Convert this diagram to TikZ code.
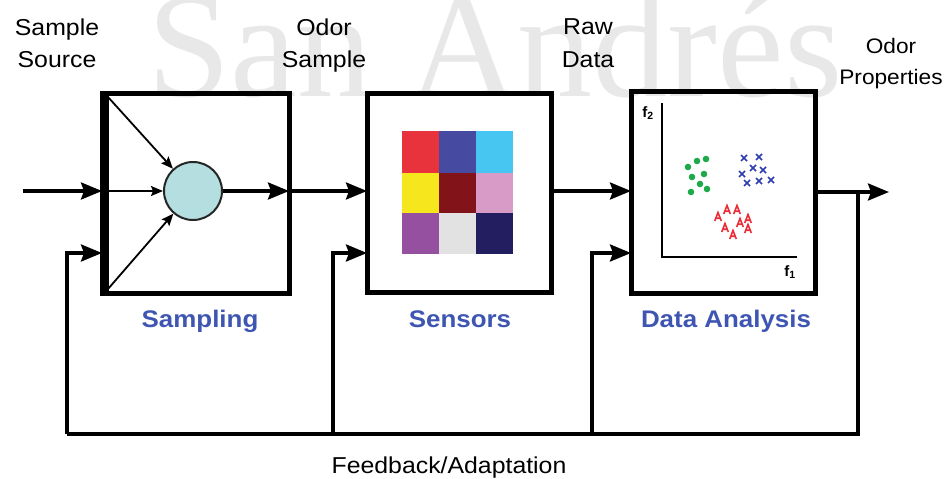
\documentclass[tikz,border=0pt]{standalone}
\usepackage{fontspec}
\setmainfont{Liberation Sans}
\newfontfamily\wmfont{Liberation Serif}
\usetikzlibrary{arrows.meta}
\definecolor{wm}{RGB}{232,232,232}
\definecolor{lblue}{RGB}{62,86,178}
\definecolor{cyanfill}{RGB}{180,222,224}
\definecolor{gA}{RGB}{232,50,60}
\definecolor{gB}{RGB}{70,74,160}
\definecolor{gC}{RGB}{70,198,240}
\definecolor{gD}{RGB}{246,230,30}
\definecolor{gE}{RGB}{130,20,25}
\definecolor{gF}{RGB}{216,155,200}
\definecolor{gG}{RGB}{150,80,160}
\definecolor{gH}{RGB}{226,226,226}
\definecolor{gI}{RGB}{35,30,95}
\definecolor{mgreen}{RGB}{30,170,75}
\definecolor{mblue}{RGB}{45,60,175}
\definecolor{mred}{RGB}{235,45,55}
\newcommand{\lbl}[3]{\scalebox{1.08}[1]{\fontsize{#1}{#2}\selectfont\begin{tabular}[t]{@{}c@{}}#3\end{tabular}}}
\begin{document}
\begin{tikzpicture}[x=1pt,y=-1pt,line join=miter,
  box/.style={draw,line width=5pt,inner sep=0pt,outer sep=0pt},
  ln/.style={line width=3.3pt},
  arr/.style={line width=3.3pt,-{Stealth[length=21pt,width=17pt,inset=3pt]}},
  tarr/.style={line width=1.8pt,-{Stealth[length=12pt,width=10pt,inset=2pt]}},
  toplbl/.style={anchor=base,inner sep=0pt},
  blbl/.style={anchor=base,inner sep=0pt,text=lblue,font=\bfseries\fontsize{24}{24}\selectfont},
  flbl/.style={inner sep=0pt,font=\bfseries\fontsize{15}{15}\selectfont},
  gdot/.style={fill=mgreen},
  bx/.style={draw=mblue,line width=1.7pt},
  ra/.style={draw=mred,line width=1.6pt}]
\useasboundingbox (0,0) rectangle (945,479);
% watermark
\node[anchor=base,inner sep=0pt,text=wm,font=\wmfont\fontsize{150}{150}\selectfont] (wmk) at (495,96) {San Andrés};

% boxes
\node[box,minimum width=187pt,minimum height=200pt] (samp) at (195.5,193) {};
\node[box,minimum width=184pt,minimum height=199pt] (sens) at (459,192.5) {};
\node[box,minimum width=184pt,minimum height=202pt] (data) at (723,192) {};
\draw[line width=8pt] ([xshift=2.5pt]samp.north west) -- ([xshift=2.5pt]samp.south west);

% sampling internals
\node[circle,draw=black!85,line width=2pt,fill=cyanfill,minimum size=58pt,inner sep=0pt] (mix) at (193,191) {};
\coordinate (c1) at (108,97);
\coordinate (c2) at (104,191);
\coordinate (c3) at (108,289);
\draw[tarr] (c1) -- (mix);
\draw[tarr] (c2) -- (mix);
\draw[tarr] (c3) -- (mix);
\draw[arr] (mix) -- (mix -| samp.east);

% main flow
\coordinate (src) at (23,191);
\draw[arr] (src) -- (src -| samp.west);
\draw[arr] (samp.east |- mix) -- (sens.west |- mix);
\draw[arr] (sens.east |- mix) -- (data.west |- mix);
\coordinate (out) at (889,192);
\coordinate (tap) at (858,192);
\draw[arr] (data.east |- out) -- (out);

% feedback
\coordinate (fb0) at (67,434);
\coordinate (fb1) at (333,434);
\coordinate (fb2) at (592,434);
\coordinate (fb3) at (858,434);
\coordinate (j0) at (67,253);
\coordinate (j1) at (333,253);
\coordinate (j2) at (592,253);
\draw[ln] (tap) -- (fb3) -- (fb0);
\draw[arr] (fb0) -- (j0) -- (j0 -| samp.west);
\draw[arr] (fb1) -- (j1) -- (j1 -| sens.west);
\draw[arr] (fb2) -- (j2) -- (j2 -| data.west);

% sensor grid
\fill[gA] (402,131) rectangle (439,173);
\fill[gB] (439,131) rectangle (476,173);
\fill[gC] (476,131) rectangle (513,173);
\fill[gD] (402,173) rectangle (439,213);
\fill[gE] (439,173) rectangle (476,213);
\fill[gF] (476,173) rectangle (513,213);
\fill[gG] (402,213) rectangle (439,254);
\fill[gH] (439,213) rectangle (476,254);
\fill[gI] (476,213) rectangle (513,254);

% data analysis plot
\coordinate (ax0) at (662,103);
\coordinate (ax1) at (662,257);
\coordinate (ax2) at (797,257);
\draw[line width=2pt] (ax0) -- (ax1) -- (ax2);
\node[flbl] (f2) at (648,113) {f\textsubscript{2}};
\node[flbl] (f1) at (790,272) {f\textsubscript{1}};
\foreach \x/\y in {688/167,697/161,706/159,692/177,704/174,700/184,707/189,691/192}
  \fill[gdot] (\x,\y) circle (3.3pt);
\foreach \x/\y in {744/158,759/157,753/168,763/170,742/174,747/183,759/181,771/180}
  \draw[bx,shift={(\x,\y)}] (-3,-3) -- (3,3) (-3,3) -- (3,-3);
\foreach \x/\y in {718/217,727/210,737/210,748/219,740/223,725/228,748/229,733/235}
  \draw[ra,shift={(\x,\y)}] (-3.3,4) -- (0,-4.5) -- (3.3,4) (-1.8,1.2) -- (1.8,1.2);

% labels
\node[toplbl] (t1) at (57,35) {\lbl{23}{32}{Sample\\Source}};
\node[toplbl] (t2) at (324,35) {\lbl{23}{32}{Odor\\Sample}};
\node[toplbl] (t3) at (588,34) {\lbl{23}{33}{Raw\\Data}};
\node[toplbl] (t4) at (891,53) {\lbl{21}{31}{Odor\\Properties}};
\node[blbl] (l1) at (200,327) {\scalebox{1.08}[1]{Sampling}};
\node[blbl] (l2) at (460,327) {\scalebox{1.08}[1]{Sensors}};
\node[blbl] (l3) at (726,327) {\scalebox{1.08}[1]{Data Analysis}};
\node[toplbl] (fbt) at (449,473) {\lbl{23}{23}{Feedback/Adaptation}};
\end{tikzpicture}
\end{document}
